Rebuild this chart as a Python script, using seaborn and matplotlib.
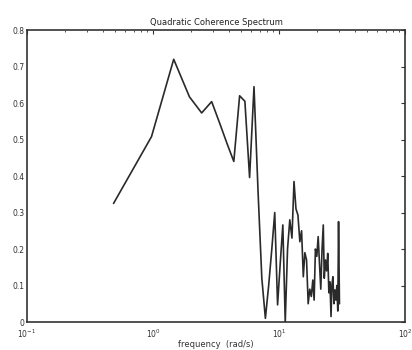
import pandas as pd
import seaborn as sns
import matplotlib.pyplot as plt
from matplotlib.ticker import LogLocator, FixedLocator

# frequency grid (rad/s) and quadratic coherence
freq = [0.486, 0.972, 1.458, 1.944, 2.43, 2.916, 3.40, 3.89, 4.37, 4.86,
        5.35, 5.83, 6.32, 6.80, 7.29, 7.78, 8.26, 8.75, 9.23, 9.72,
        10.2, 10.7, 11.18, 11.66, 12.15, 12.64, 13.12, 13.6, 14.1, 14.6,
        15.07, 15.55, 16.0, 16.5, 17.0, 17.5, 18.0, 18.5, 18.95, 19.4,
        19.9, 20.4, 20.9, 21.4, 21.9, 22.4, 22.8, 23.3, 23.8, 24.3,
        24.8, 25.3, 25.8, 26.2, 26.7, 27.2, 27.7, 28.2, 28.7, 29.2,
        29.6, 30.1]
coherence = [0.325, 0.508, 0.72, 0.617, 0.573, 0.604, 0.542, 0.486, 0.44, 0.62,
             0.605, 0.396, 0.645, 0.36, 0.12, 0.01, 0.10, 0.20, 0.30, 0.047,
             0.16, 0.266, 0.0, 0.20, 0.28, 0.23, 0.385, 0.31, 0.293, 0.22,
             0.25, 0.124, 0.19, 0.17, 0.05, 0.09, 0.07, 0.115, 0.06, 0.20,
             0.18, 0.234, 0.16, 0.09, 0.20, 0.266, 0.12, 0.17, 0.14, 0.188,
             0.08, 0.11, 0.015, 0.10, 0.124, 0.05, 0.088, 0.06, 0.10, 0.03,
             0.275, 0.05]

y_ticks = [0, 0.1, 0.2, 0.3, 0.4, 0.5, 0.6, 0.7, 0.8]
y_labels = ['0', '0.1', '0.2', '0.3', '0.4', '0.5', '0.6', '0.7', '0.8']

df = pd.DataFrame({'freq': freq, 'coh': coherence})

sns.set_style('white')
plt.rcParams['font.family'] = ['DejaVu Sans']

fig = plt.figure(figsize=(4.12, 3.5), dpi=100)
ax = fig.add_axes([0.0655, 0.08, 0.918, 0.834])

sns.lineplot(data=df, x='freq', y='coh', ax=ax, color='#2a2a2a', linewidth=1.2)

ax.set_xscale('log')
ax.set_xlim(0.1, 100)
ax.set_ylim(0, 0.8)
ax.yaxis.set_major_locator(FixedLocator(y_ticks))
ax.set_yticklabels(y_labels)
ax.xaxis.set_major_locator(LogLocator(base=10, numticks=10))
ax.xaxis.set_minor_locator(LogLocator(base=10, subs=range(2, 10), numticks=20))

ax.tick_params(which='both', direction='in', top=True, right=True,
               labelsize=5.5, colors='#333333')
ax.tick_params(axis='y', pad=2)
ax.tick_params(axis='x', pad=4)
ax.tick_params(which='major', length=3, width=0.8)
ax.tick_params(which='minor', length=1.5, width=0.6)
for sp in ax.spines.values():
    sp.set_color('#333333')
    sp.set_linewidth(1.2)

ax.set_title('Quadratic Coherence Spectrum', fontsize=6, color='#222222', pad=4)
ax.set_xlabel('frequency  (rad/s)', fontsize=6, color='#333333', labelpad=0)
ax.set_ylabel('')

fig.savefig('out.png', dpi=100)
